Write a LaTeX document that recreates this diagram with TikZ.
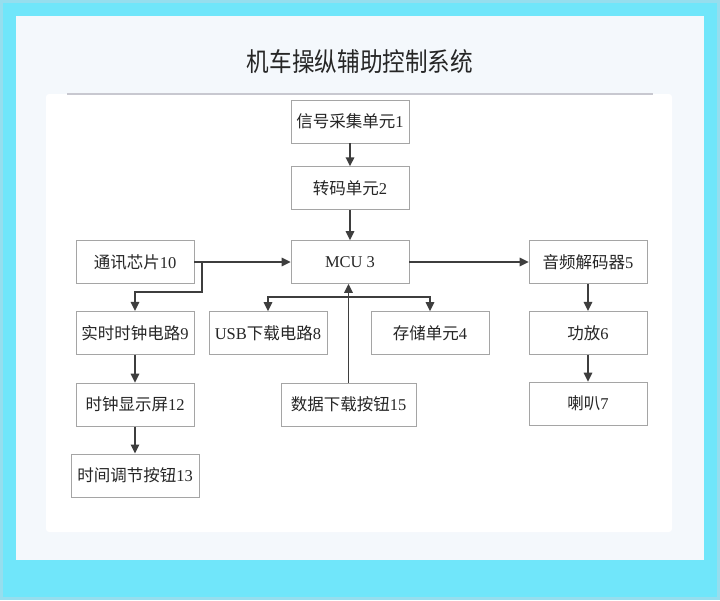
\documentclass[tikz,border=0pt]{standalone}
\usepackage{fontspec}
\setmainfont{Liberation Serif}
\newfontfamily\cjk{Noto Sans CJK SC}
\usepackage{tikz}
\usetikzlibrary{arrows.meta,positioning}
\definecolor{framecyan}{RGB}{112,230,250}
\definecolor{frameedge}{RGB}{150,222,238}
\definecolor{panelbg}{RGB}{244,248,252}
\definecolor{linegray}{RGB}{62,62,62}
\definecolor{boxgray}{RGB}{165,165,165}
\definecolor{rulegray}{RGB}{200,200,208}
\newcommand\zh[1]{{\cjk #1}}

\begin{document}
\begin{tikzpicture}[x=1pt, y=-1pt,
    box/.style={draw=boxgray, line width=0.8pt, fill=white, minimum width=118pt, minimum height=43pt, inner sep=2pt, font=\fontsize{16.5}{19}\selectfont, text=black!85},
    arr/.style={draw=linegray, line width=1.6pt, -{Triangle[length=9pt,width=8.5pt]}}]
    \useasboundingbox (0,0) rectangle (720,600);
    % frame and panels
    \fill[framecyan] (0,0) rectangle (720,600);
    \draw[frameedge, line width=3pt] (1.5,1.5) rectangle (718.5,598.5);
    \fill[panelbg] (16,16) rectangle (704,560);
    \fill[white, rounded corners=3pt] (46,94) rectangle (672,532);
    \draw[rulegray, line width=2pt] (67,94) -- (653,94);
    \node[xscale=0.87, transform shape, font=\cjk\fontsize{26}{30}\selectfont, text=black!85] (title) at (360,62) {机车操纵辅助控制系统};

    % blocks
    \node[box] (mcu) at (350,262) {MCU 3};
    \node[box, above=30pt of mcu] (conv) {\zh{转码单元}2};
    \node[box, above=23pt of conv] (sig) {\zh{信号采集单元}1};
    \node[box] (comm) at (135,262) {\zh{通讯芯片}10};
    \node[box, below=27pt of comm] (rtc) {\zh{实时时钟电路}9};
    \node[box, below=28pt of rtc] (disp) {\zh{时钟显示屏}12};
    \node[box, below=27pt of disp, minimum width=128pt] (adj) {\zh{时间调节按钮}13};
    \node[box] (audio) at (588,262) {\zh{音频解码器}5};
    \node[box, below=27pt of audio] (amp) {\zh{功放}6};
    \node[box, below=27pt of amp] (spk) {\zh{喇叭}7};
    \node[box] (usb) at (268,333) {USB\zh{下载电路}8};
    \node[box] (store) at (430,333) {\zh{存储单元}4};
    \node[box, minimum width=135pt] (dl) at (348.5,404.5) {\zh{数据下载按钮}15};

    % connectors
    \coordinate (split) at (202,262);
    \coordinate (bend) at (202,292);
    \coordinate (bus) at (350,297);
    \draw[arr] (sig) -- (conv);
    \draw[arr] (conv) -- (mcu);
    \draw[arr] (comm) -- (mcu);
    \draw[arr] (split) -- (bend) -| (rtc.north);
    \draw[arr] (rtc) -- (disp);
    \draw[arr] (disp) -- (adj);
    \draw[arr] (mcu) -- (audio);
    \draw[arr] (audio) -- (amp);
    \draw[arr] (amp) -- (spk);
    \draw[arr] (bus) -| (usb.north);
    \draw[arr] (bus) -| (store.north);
    \draw[arr] (dl.north) -- (dl.north |- mcu.south);
\end{tikzpicture}
\end{document}
